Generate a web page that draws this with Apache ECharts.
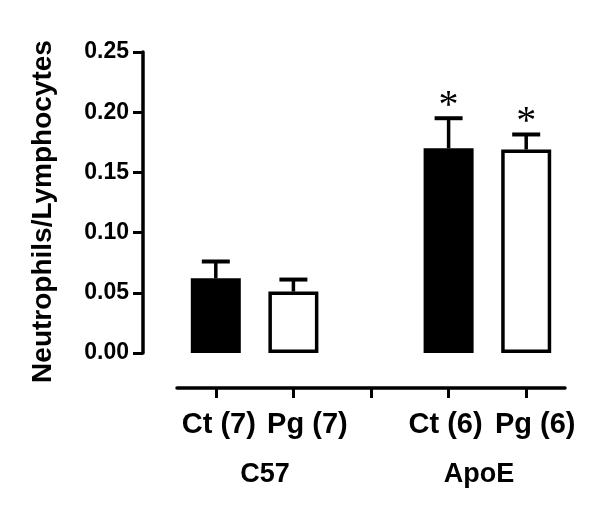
<!DOCTYPE html>
<html>
<head>
<meta charset="utf-8">
<script src="https://cdn.jsdelivr.net/npm/echarts@6/dist/echarts.min.js"></script>
<style>
  html, body { margin: 0; padding: 0; background: #fff; }
  #chart { width: 600px; height: 518px; }
</style>
</head>
<body>
<div id="chart"></div>
<script>
// ---- data ----
const categories = ['Ct (7)', 'Pg (7)', '', 'Ct (6)', 'Pg (6)'];
const means      = [0.062, 0.051, null, 0.170, 0.169];
const sems       = [0.014, 0.010, null, 0.025, 0.0125];
const fills      = ['#000000', '#ffffff', null, '#000000', '#ffffff'];
const signif     = ['', '', '', '*', '*'];
const groups     = ['C57', 'ApoE'];
const yTicks     = [0, 0.05, 0.10, 0.15, 0.20, 0.25];
const yName      = 'Neutrophils/Lymphocytes';

// label nudges (px) to mimic original label placement
const labelShift = [3, 14, 0, -3, 9];

const font = 'Liberation Sans, Arial, Helvetica, sans-serif';

const chart = echarts.init(document.getElementById('chart'), null, { renderer: 'canvas' });

const barData = means.map((v, i) => v == null ? null : {
  value: v,
  itemStyle: { color: fills[i], borderColor: '#000', borderWidth: 3.5 }
});

const errData = [];
means.forEach((v, i) => { if (v != null) errData.push([i, v, sems[i]]); });

const xData = categories.map((c, i) => ({
  value: c,
  textStyle: {
    padding: labelShift[i] >= 0 ? [0, 0, 0, 2 * labelShift[i]] : [0, -2 * labelShift[i], 0, 0]
  }
}));

chart.setOption({
  animation: false,
  backgroundColor: '#ffffff',
  grid: [
    { left: 177, right: 35, top: 52, bottom: 165 },
    { left: 158, right: 14, top: 52, bottom: 165 }
  ],
  xAxis: [
    {
      type: 'category',
      gridIndex: 0,
      data: xData,
      offset: 35,
      axisLine: { show: true, onZero: false, lineStyle: { color: '#000', width: 3.5 } },
      axisTick: { show: true, alignWithLabel: true, length: 10, lineStyle: { color: '#000', width: 3 } },
      axisLabel: { interval: 0, margin: 22, color: '#000', fontFamily: font, fontWeight: 'bold', fontSize: 29 },
      splitLine: { show: false }
    },
    {
      type: 'category',
      gridIndex: 1,
      data: groups,
      axisLine: { show: false, onZero: false },
      axisTick: { show: false },
      axisLabel: { interval: 0, margin: 108, color: '#000', fontFamily: font, fontWeight: 'bold', fontSize: 27 },
      splitLine: { show: false }
    }
  ],
  yAxis: [
    {
      type: 'value',
      gridIndex: 0,
      min: yTicks[0],
      max: yTicks[yTicks.length - 1],
      interval: yTicks[1] - yTicks[0],
      offset: 34,
      name: yName,
      nameLocation: 'middle',
      nameGap: 86,
      nameTextStyle: { color: '#000', fontFamily: font, fontWeight: 'bold', fontSize: 28, padding: [0, 18, 0, 0] },
      axisLine: { show: true, onZero: false, lineStyle: { color: '#000', width: 3.5 } },
      axisTick: { show: true, length: 10, lineStyle: { color: '#000', width: 3 } },
      axisLabel: {
        margin: 14, color: '#000', fontFamily: font, fontWeight: 'bold', fontSize: 23,
        formatter: v => v.toFixed(2)
      },
      splitLine: { show: false }
    },
    { type: 'value', gridIndex: 1, show: false, min: 0, max: 1 }
  ],
  series: [
    {
      type: 'bar',
      xAxisIndex: 0,
      yAxisIndex: 0,
      data: barData,
      barWidth: 50,
      z: 2
    },
    {
      type: 'custom',
      xAxisIndex: 0,
      yAxisIndex: 0,
      z: 3,
      data: errData,
      renderItem: function (params, api) {
        const idx = api.value(0);
        const m = api.value(1);
        const s = api.value(2);
        const base = api.coord([idx, m]);
        const top = api.coord([idx, m + s]);
        const half = 14;
        const children = [
          { type: 'line', shape: { x1: base[0], y1: base[1], x2: top[0], y2: top[1] },
            style: { stroke: '#000', lineWidth: 3.5 } },
          { type: 'line', shape: { x1: top[0] - half, y1: top[1], x2: top[0] + half, y2: top[1] },
            style: { stroke: '#000', lineWidth: 4 } }
        ];
        if (signif[idx]) {
          children.push({
            type: 'text',
            style: {
              text: signif[idx], x: top[0], y: top[1] + 8,
              align: 'center', verticalAlign: 'bottom',
              fill: '#000', font: '40px "Liberation Serif", "Times New Roman", serif'
            }
          });
        }
        return { type: 'group', children: children };
      }
    }
  ]
});
</script>
</body>
</html>
